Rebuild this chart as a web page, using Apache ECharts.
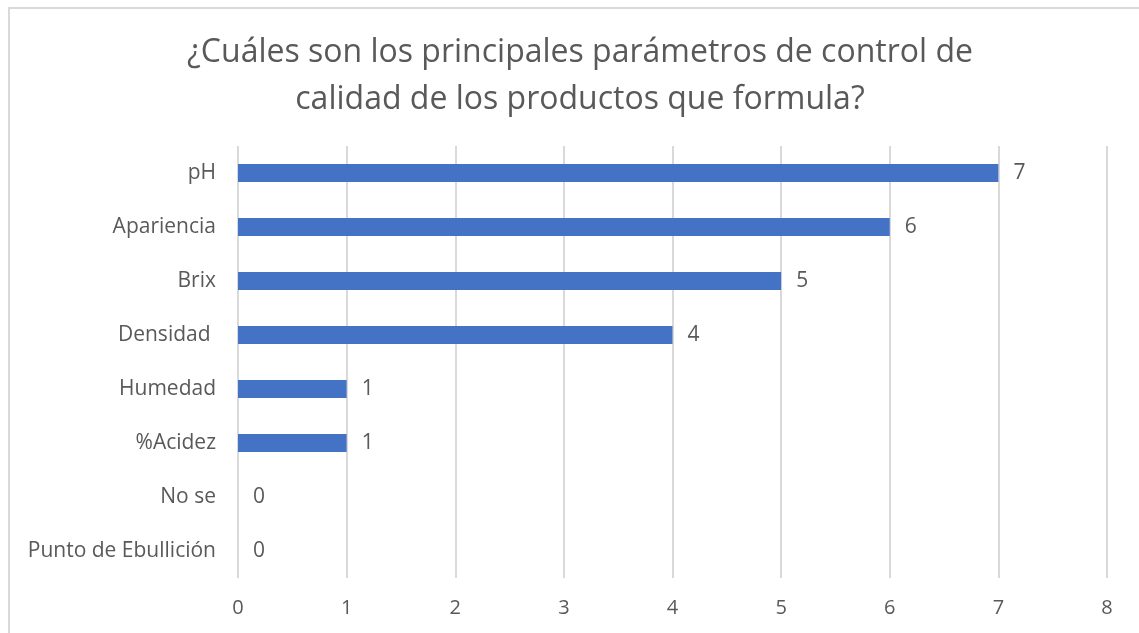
<!DOCTYPE html>
<html>
<head>
<meta charset="utf-8">
<script src="https://cdn.jsdelivr.net/npm/echarts@6/dist/echarts.min.js"></script>
<style>
  html, body { margin: 0; padding: 0; background: #ffffff; }
  #chart { width: 1139px; height: 633px; }
</style>
</head>
<body>
<div id="chart"></div>
<script>
// Categories from top to bottom as shown
const categories = ['pH', 'Apariencia', 'Brix', 'Densidad ', 'Humedad', '%Acidez', 'No se', 'Punto de Ebullición'];
const counts = [7, 6, 5, 4, 1, 1, 0, 0];
const xTicks = [0, 1, 2, 3, 4, 5, 6, 7, 8];

const chart = echarts.init(document.getElementById('chart'));
const textColor = '#595959';
const fontFamily = '"Open Sans", "Noto Sans", sans-serif';

chart.setOption({
  animation: false,
  backgroundColor: '#ffffff',
  title: {
    text: '¿Cuáles son los principales parámetros de control de\ncalidad de los productos que formula?',
    left: 575,
    textAlign: 'center',
    top: 24,
    textStyle: {
      color: textColor,
      fontFamily: fontFamily,
      fontSize: 32,
      fontWeight: 'normal',
      lineHeight: 47
    }
  },
  graphic: [{
    type: 'rect',
    shape: { x: 9, y: 8, width: 1200, height: 700 },
    style: { fill: 'none', stroke: '#d9d9d9', lineWidth: 2 },
    silent: true
  }],
  grid: { left: 238, right: 32, top: 146, bottom: 55, containLabel: false },
  xAxis: {
    type: 'value',
    min: xTicks[0],
    max: xTicks[xTicks.length - 1],
    interval: 1,
    axisLine: { show: false },
    axisTick: { show: false },
    splitLine: { show: true, lineStyle: { color: '#d9d9d9', width: 2 } },
    axisLabel: { color: textColor, fontFamily: fontFamily, fontSize: 20, margin: 20 }
  },
  yAxis: {
    type: 'category',
    data: categories,
    inverse: true,
    axisLine: { show: false },
    axisTick: { show: false },
    axisLabel: { color: textColor, fontFamily: fontFamily, fontSize: 21, margin: 22 }
  },
  series: [{
    type: 'bar',
    data: counts,
    barWidth: 18,
    itemStyle: { color: '#4472C4' },
    label: {
      show: true,
      position: 'right',
      distance: 15,
      color: textColor,
      fontFamily: fontFamily,
      fontSize: 21
    }
  }]
});
</script>
</body>
</html>
